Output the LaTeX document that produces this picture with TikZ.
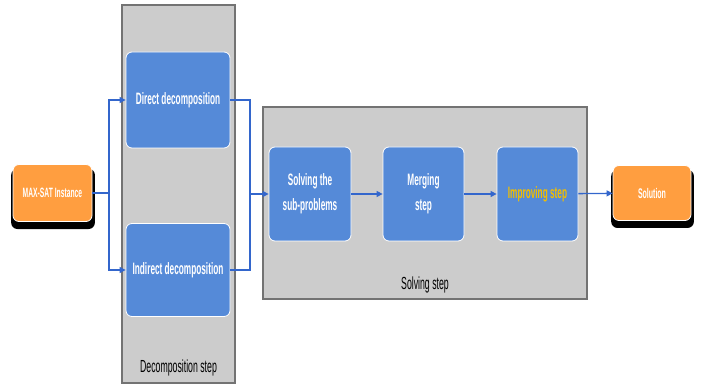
\documentclass[tikz,border=0pt]{standalone}
\usepackage{fontspec}
\setmainfont{Liberation Sans}
\newfontfamily\narrowfont[FakeStretch=0.5]{Liberation Sans}
\usetikzlibrary{arrows.meta,positioning,shadows}
\definecolor{panelgray}{HTML}{CCCCCC}
\definecolor{stepblue}{HTML}{558AD8}
\definecolor{termorange}{HTML}{FF9E40}
\definecolor{linkblue}{HTML}{3366CC}
\definecolor{improvegold}{HTML}{F2BE00}

\begin{document}
\begin{tikzpicture}[
    x=1pt, y=1pt,
    panel/.style={rectangle, draw=black!55, line width=1.2pt, fill=panelgray},
    stepbox/.style={rectangle, draw=white, line width=0.8pt, rounded corners=6pt, fill=stepblue, text=white, align=center, font=\narrowfont\bfseries\fontsize{16.5}{25}\selectfont},
    termbox/.style={rectangle, draw=white, line width=0.8pt, rounded corners=6pt, fill=termorange, text=white, align=center,
        drop shadow={fill=black, opacity=1, shadow xshift=0.5pt, shadow yshift=-5.5pt, shadow scale=1.06}},
    panellabel/.style={font=\narrowfont\fontsize{17.5}{20}\selectfont, text=black},
    link/.style={draw=linkblue, line width=1.3pt},
    arrow/.style={link, -{Triangle[length=6pt, width=6pt]}}
]
  \useasboundingbox (0,0) rectangle (709,385);

  % Panels
  \node[panel, minimum width=113, minimum height=378] (decpanel) at (178.5,191) {};
  \node[panel, minimum width=324, minimum height=192] (solpanel) at (425,182) {};
  \node[panellabel] (declabel) at (178.5,17) {Decomposition step};
  \node[panellabel] (sollabel) at (425,100) {Solving step};

  % Nodes
  \node[termbox, minimum width=79, minimum height=57, font=\narrowfont\bfseries\fontsize{13.5}{15}\selectfont] (maxsat) at (52.5,192) {MAX-SAT Instance};
  \node[stepbox, minimum width=104, minimum height=96] (direct) at (178,285) {Direct decomposition};
  \node[stepbox, minimum width=104, minimum height=93] (indirect) at (178,115) {Indirect decomposition};
  \node[stepbox, minimum width=82, minimum height=94] (solving) at (310,191) {Solving the\\sub-problems};
  \node[stepbox, minimum width=81, minimum height=94] (merging) at (423.5,191) {Merging\\step};
  \node[stepbox, minimum width=81, minimum height=94, text=improvegold] (improving) at (537.5,191) {Improving step};
  \node[termbox, minimum width=78, minimum height=55, font=\narrowfont\bfseries\fontsize{14}{15}\selectfont] (solution) at (652,192) {Solution};

  \coordinate (split) at (109,192);
  \coordinate (join) at (250,191);

  % Arrows
  \draw[link] (maxsat) -- (split);
  \draw[arrow] (split) |- (direct);
  \draw[arrow] (split) |- (indirect);
  \draw[link] (direct) -| (join);
  \draw[link] (indirect) -| (join);
  \draw[arrow] (join) -- (solving);
  \draw[arrow] (solving) -- (merging);
  \draw[arrow] (merging) -- (improving);
  \draw[arrow] (improving) -- (solution);
\end{tikzpicture}
\end{document}
